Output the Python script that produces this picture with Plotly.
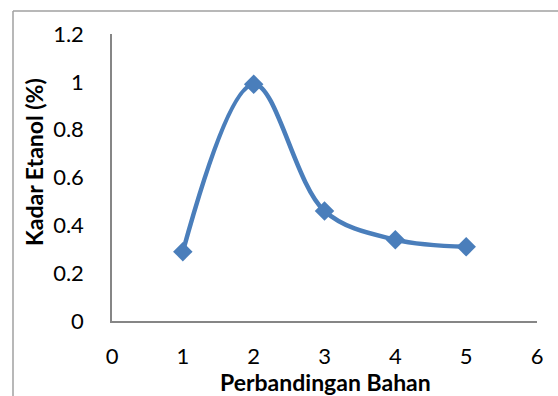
import plotly.graph_objects as go

x_vals = [1, 2, 3, 4, 5]
kadar_etanol = [0.29, 0.99, 0.46, 0.34, 0.31]
x_ticks = [0, 1, 2, 3, 4, 5, 6]
y_ticks = [0, 0.2, 0.4, 0.6, 0.8, 1.0, 1.2]
y_tick_text = ["0", "0.2", "0.4", "0.6", "0.8", "1", "1.2"]

W, H = 558, 396
L, R, T, B = 112, 21, 34, 75
pw, ph = W - L - R, H - T - B

blue = "#4a7ebb"
axis_gray = "#868686"
font_fam = "Lato, 'Open Sans', sans-serif"

fig = go.Figure()
fig.add_trace(go.Scatter(
    x=x_vals, y=kadar_etanol, mode="lines+markers",
    line=dict(color=blue, width=4.5, shape="spline", smoothing=1.0),
    marker=dict(symbol="diamond", size=15, color=blue),
    showlegend=False, hoverinfo="skip"))

fig.update_layout(
    width=W, height=H,
    margin=dict(l=L, r=R, t=T, b=B, pad=0),
    paper_bgcolor="white", plot_bgcolor="white",
    font=dict(family=font_fam, size=22, color="black"),
    xaxis=dict(range=[0, 6], tickvals=x_ticks, showgrid=False, zeroline=False,
               showline=True, linecolor=axis_gray, linewidth=1.5,
               ticks="outside", ticklen=0, ticklabelstandoff=15,
               fixedrange=True),
    yaxis=dict(range=[0, 1.2], tickvals=y_ticks, ticktext=y_tick_text,
               showgrid=False, zeroline=False,
               showline=True, linecolor=axis_gray, linewidth=1.5,
               ticks="outside", ticklen=0, ticklabelstandoff=22,
               fixedrange=True),
)

def px_x(p):
    return (p - L) / pw

def px_y(p):
    return 1 - (p - T) / ph

# outer chart border (left and top edges visible)
fig.add_shape(type="line", xref="paper", yref="paper",
              x0=px_x(13), x1=px_x(W + 5), y0=px_y(11), y1=px_y(11),
              line=dict(color="#a0a0a0", width=1.5))
fig.add_shape(type="line", xref="paper", yref="paper",
              x0=px_x(13), x1=px_x(13), y0=px_y(11), y1=px_y(H + 5),
              line=dict(color="#a0a0a0", width=1.5))

fig.add_annotation(text="<b>Perbandingan Bahan</b>", xref="paper", yref="paper",
                   x=px_x(325), y=px_y(382), showarrow=False,
                   xanchor="center", yanchor="middle",
                   font=dict(family=font_fam, size=23, color="black"))
fig.add_annotation(text="<b>Kadar Etanol (%)</b>", xref="paper", yref="paper",
                   x=px_x(34), y=px_y(162), showarrow=False, textangle=-90,
                   xanchor="center", yanchor="middle",
                   font=dict(family=font_fam, size=23, color="black"))

fig.write_html("out.html", config={"displayModeBar": False},
               post_script="document.body.style.margin='0';")
